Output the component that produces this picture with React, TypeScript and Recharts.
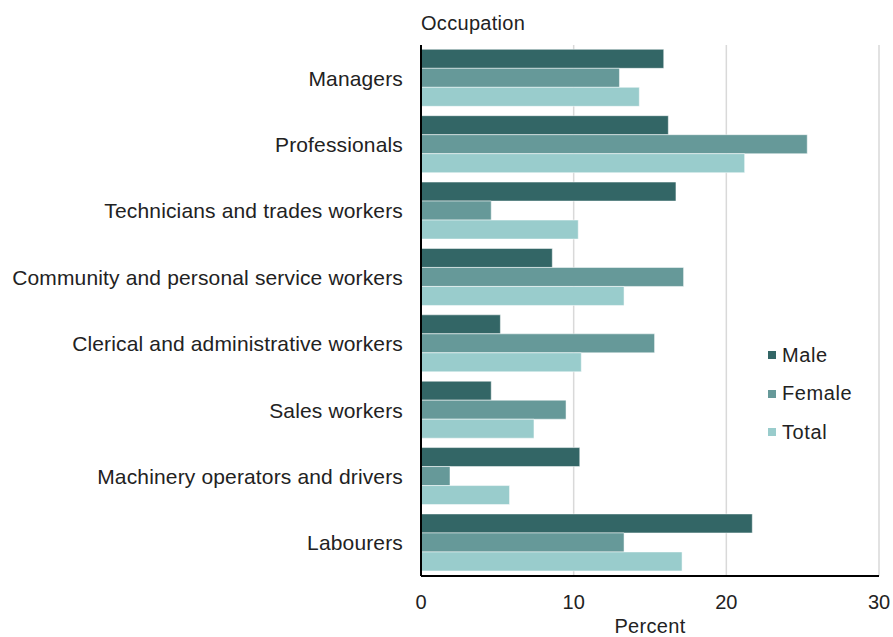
import React from 'react';
import { BarChart, Bar, XAxis, YAxis, CartesianGrid } from 'recharts';

const categories = [
  'Managers',
  'Professionals',
  'Technicians and trades workers',
  'Community and personal service workers',
  'Clerical and administrative workers',
  'Sales workers',
  'Machinery operators and drivers',
  'Labourers',
];
const male = [15.9, 16.2, 16.7, 8.6, 5.2, 4.6, 10.4, 21.7];
const female = [13.0, 25.3, 4.6, 17.2, 15.3, 9.5, 1.9, 13.3];
const total = [14.3, 21.2, 10.3, 13.3, 10.5, 7.4, 5.8, 17.1];
const xTicks = [0, 10, 20, 30];

const data = categories.map((name, i) => ({
  name,
  Male: male[i],
  Female: female[i],
  Total: total[i],
}));

const series = [
  { key: 'Male', color: '#336666' },
  { key: 'Female', color: '#669999' },
  { key: 'Total', color: '#99cccc' },
];

const FONT = '"Liberation Sans", Arial, sans-serif';
const TEXT = '#222';

const SideLegend = () => (
  <div
    style={{
      position: 'absolute',
      left: 768,
      top: 336,
      fontFamily: FONT,
      fontSize: 20,
      color: TEXT,
    }}
  >
    {series.map((s) => (
      <div key={s.key} style={{ display: 'flex', alignItems: 'center', height: 38.5 }}>
        <span style={{ width: 8, height: 8, background: s.color, marginRight: 6, display: 'inline-block' }} />
        <span style={{ letterSpacing: 0.6 }}>{s.key}</span>
      </div>
    ))}
  </div>
);

const OccupationLabel = ({ viewBox }: any) => (
  <text
    x={viewBox.x + viewBox.width}
    y={viewBox.y - 15}
    fontFamily={FONT}
    fontSize={20}
    letterSpacing={0.3}
    fill={TEXT}
  >
    Occupation
  </text>
);

export default function App() {
  return (
    <div style={{ position: 'absolute', left: 0, top: 0, width: 893, height: 637, background: '#fff' }}>
      <BarChart
        width={893}
        height={637}
        data={data}
        layout="vertical"
        margin={{ top: 45, right: 14, bottom: 0, left: 0 }}
        barCategoryGap="6.5%"
        barGap={0}
      >
        <CartesianGrid horizontal={false} stroke="#d9d9d9" strokeWidth={1.5} />
        <XAxis
          type="number"
          domain={[0, 30]}
          ticks={xTicks}
          height={61}
          tickSize={0}
          tickMargin={19}
          axisLine={{ stroke: '#000', strokeWidth: 2 }}
          tick={{ fontFamily: FONT, fontSize: 20, fill: TEXT }}
          label={{
            value: 'Percent',
            position: 'insideBottom',
            offset: 4,
            style: { fontFamily: FONT, fontSize: 20, fill: TEXT, letterSpacing: 0.3 },
          }}
        />
        <YAxis
          type="category"
          dataKey="name"
          width={421}
          tickSize={0}
          tickMargin={18}
          interval={0}
          axisLine={{ stroke: '#000', strokeWidth: 2 }}
          tick={{ fontFamily: FONT, fontSize: 21, fill: TEXT, letterSpacing: 0.15 }}
          label={{ content: <OccupationLabel /> }}
        />
        {series.map((s) => (
          <Bar
            key={s.key}
            dataKey={s.key}
            fill={s.color}
            stroke="#fff"
            strokeWidth={0.5}
            isAnimationActive={false}
          />
        ))}
      </BarChart>
      <SideLegend />
    </div>
  );
}
